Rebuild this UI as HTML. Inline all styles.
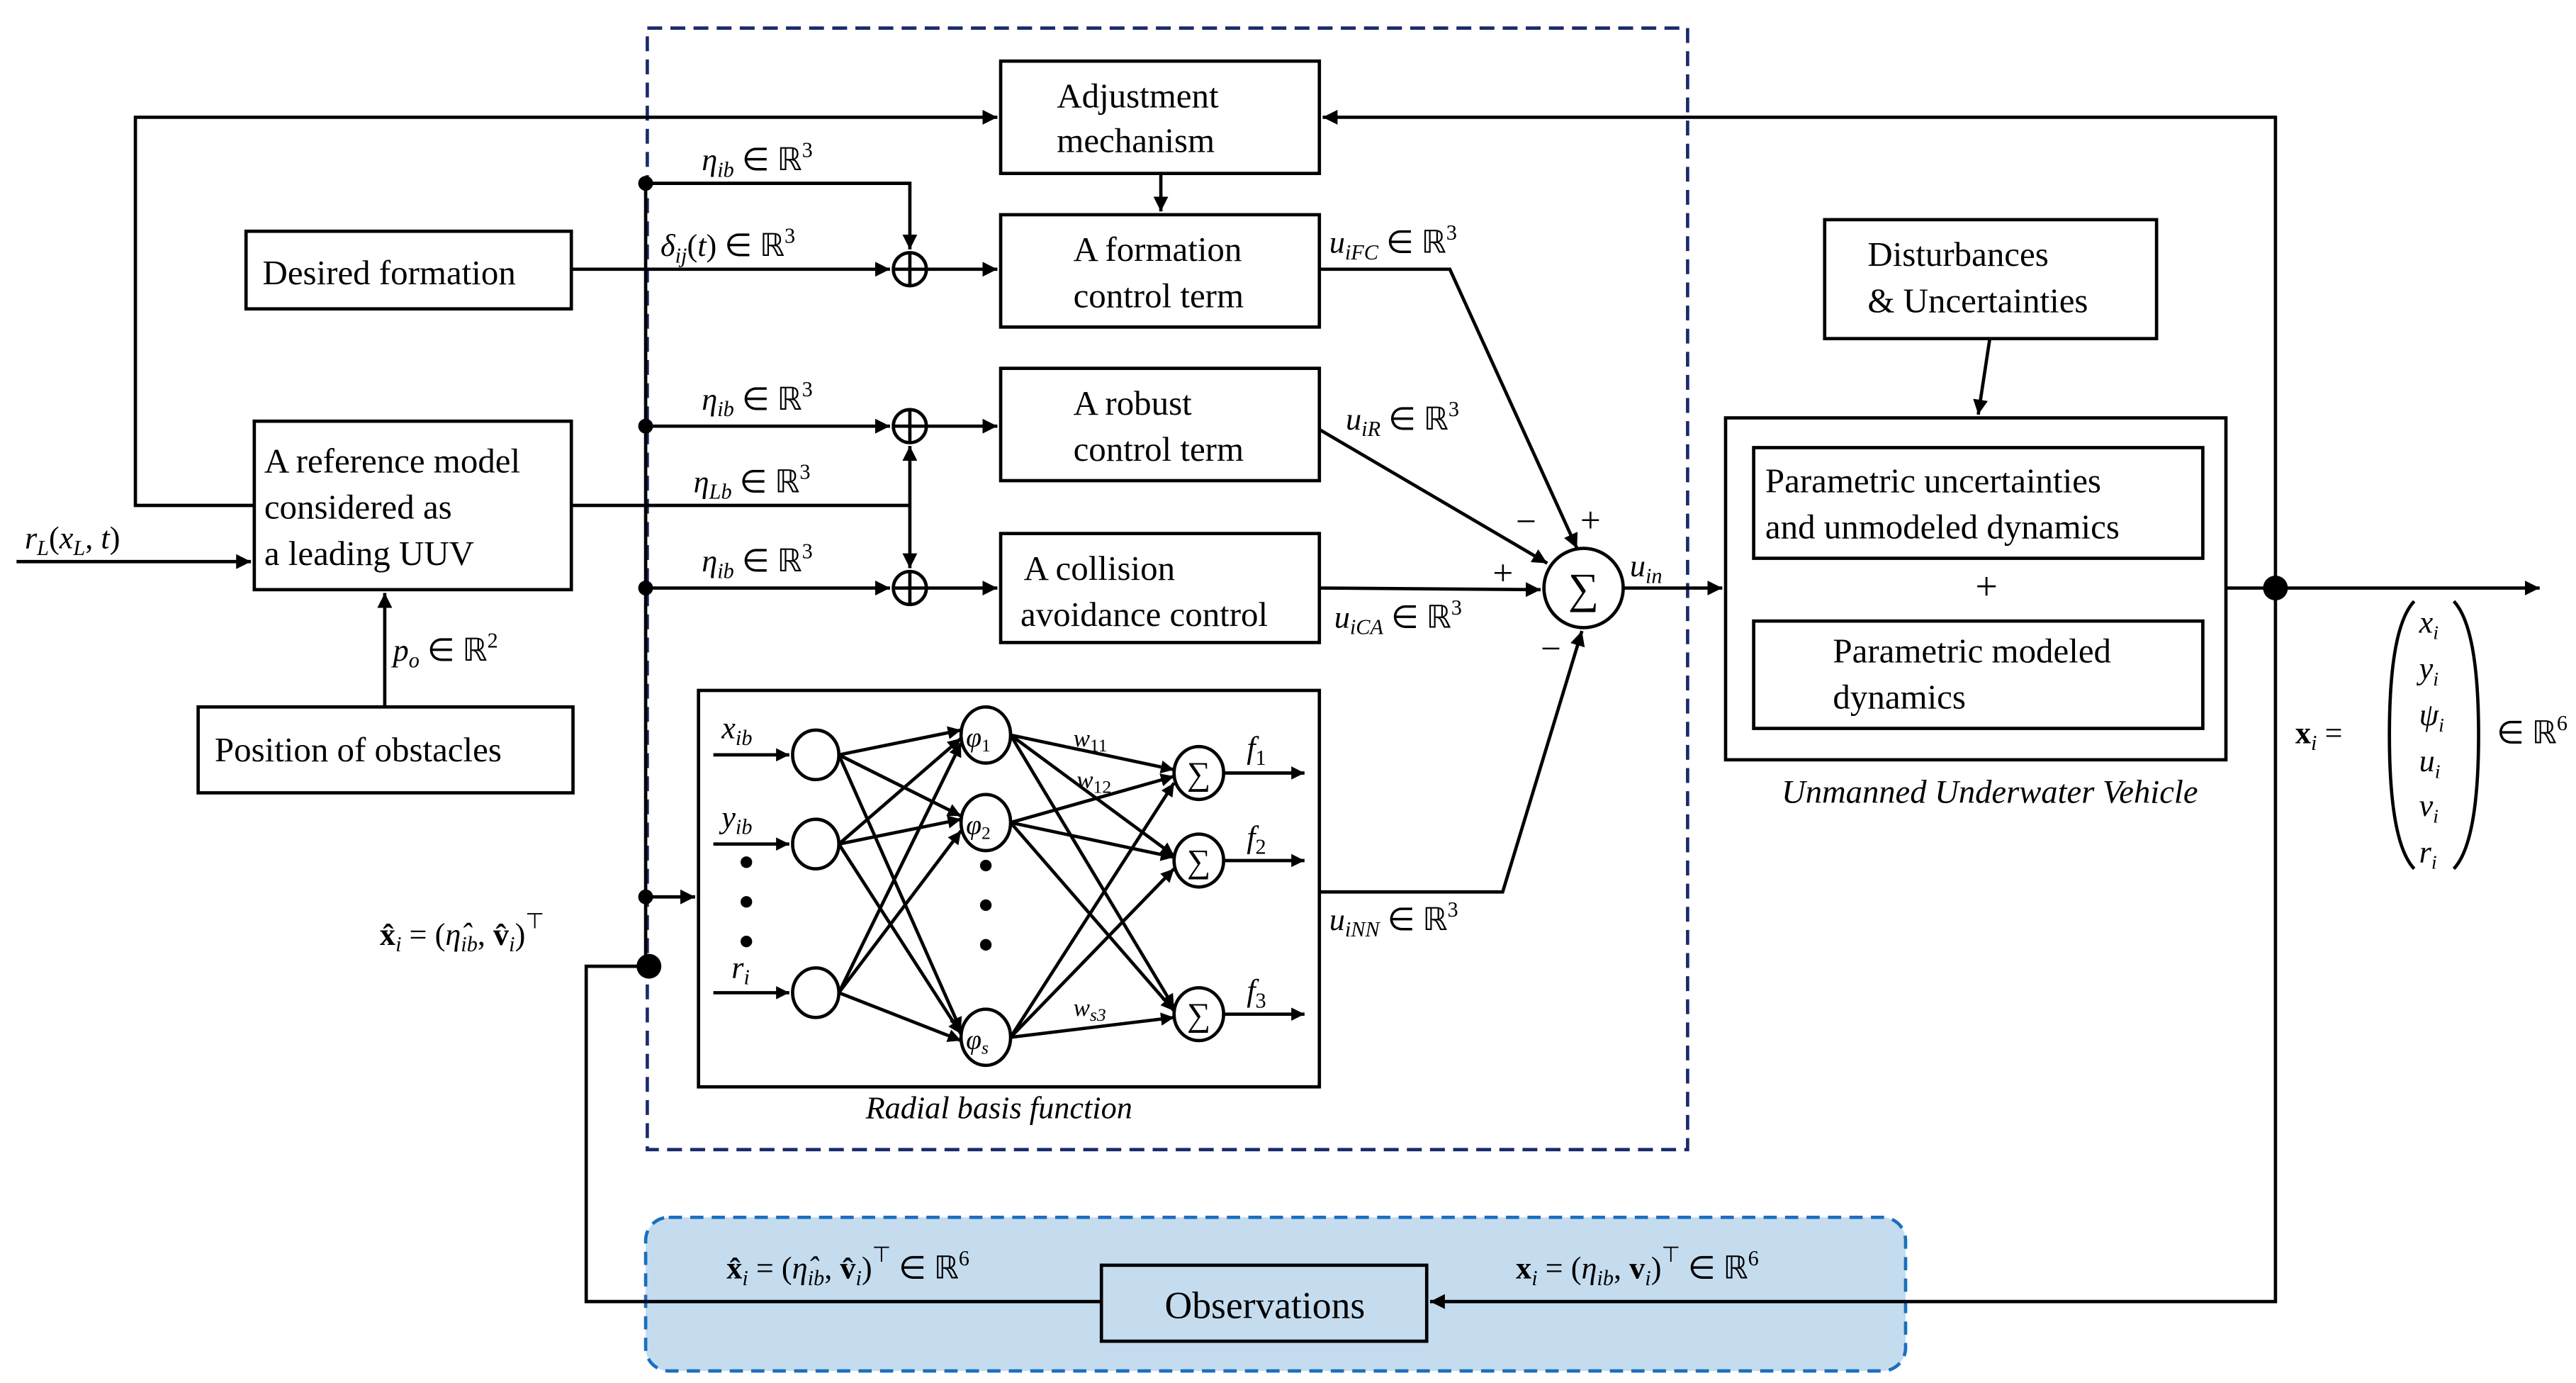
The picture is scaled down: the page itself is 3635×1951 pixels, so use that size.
<!DOCTYPE html>
<html><head><meta charset="utf-8"><style>
html,body{margin:0;padding:0;background:#fff}
svg{display:block}
text{font-family:"Liberation Serif",serif;fill:#000}
.b{font-size:21px}
.m{font-size:19px;font-style:italic}
.s{font-size:13px;font-style:italic}
</style></head><body>
<svg width="3635" height="1951" viewBox="0 0 1560 837.3" preserveAspectRatio="none" xmlns="http://www.w3.org/2000/svg">
<defs>
<marker id="a" viewBox="0 0 10 10" refX="10" refY="5" markerWidth="9" markerHeight="9" markerUnits="userSpaceOnUse" orient="auto"><path d="M0,0L10,5L0,10z" fill="#000"/></marker>
<marker id="s" viewBox="0 0 10 10" refX="10" refY="5" markerWidth="8" markerHeight="8" markerUnits="userSpaceOnUse" orient="auto"><path d="M0,0L10,5L0,10z" fill="#000"/></marker>
</defs>
<g fill="none" stroke="#000" stroke-width="2">
<!-- observation region -->
<rect x="391" y="737" width="763" height="93" rx="14" fill="#c5dcef" stroke="#1a6fc0" stroke-dasharray="8,5"/>
<rect x="392" y="17" width="630" height="679" stroke="#1b2a6b" stroke-dasharray="9,5"/>
<rect x="606" y="37" width="193" height="68"/>
<rect x="606" y="130" width="193" height="68"/>
<rect x="606" y="223" width="193" height="68"/>
<rect x="606" y="323" width="193" height="66"/>
<rect x="149" y="140" width="197" height="47"/>
<rect x="154" y="255" width="192" height="102"/>
<rect x="120" y="428" width="227" height="52"/>
<rect x="1105" y="133" width="201" height="72"/>
<rect x="1045" y="253" width="303" height="207"/>
<rect x="1062" y="271" width="272" height="67"/>
<rect x="1062" y="376" width="272" height="65"/>
<rect x="667" y="766" width="197" height="46" fill="#c5dcef"/>
<rect x="423" y="418" width="376" height="240"/>
<circle cx="959" cy="356" r="24"/>
<circle cx="551" cy="163" r="10"/><path d="M541,163h20M551,153v20"/>
<circle cx="551" cy="258" r="10"/><path d="M541,258h20M551,248v20"/>
<circle cx="551" cy="356" r="10"/><path d="M541,356h20M551,346v20"/>
<!-- connectors -->
<path d="M154,306H82V71H604" marker-end="url(#a)"/>
<path d="M1378,356V71H801" marker-end="url(#a)"/>
<path d="M703,105V128" marker-end="url(#a)"/>
<path d="M391,111H551V151" marker-end="url(#a)"/>
<path d="M346,163H539" marker-end="url(#a)"/>
<path d="M561,163H604" marker-end="url(#a)"/>
<path d="M391,258H539" marker-end="url(#a)"/>
<path d="M561,258H604" marker-end="url(#a)"/>
<path d="M346,306H551"/>
<path d="M551,306V270" marker-end="url(#a)"/>
<path d="M551,306V344" marker-end="url(#a)"/>
<path d="M391,356H539" marker-end="url(#a)"/>
<path d="M561,356H604" marker-end="url(#a)"/>
<path d="M799,163H878L955,332" marker-end="url(#a)"/>
<path d="M799,260L937,341" marker-end="url(#a)"/>
<path d="M799,356L933,357" marker-end="url(#a)"/>
<path d="M799,540H910L958,382" marker-end="url(#a)"/>
<path d="M983,356H1043" marker-end="url(#a)"/>
<path d="M1348,356H1538" marker-end="url(#a)"/>
<path d="M1378,356V788H866" marker-end="url(#a)"/>
<path d="M667,788H355V585H391"/>
<path d="M391,111V585"/>
<path d="M391,543H421" marker-end="url(#a)"/>
<path d="M10,340H152" marker-end="url(#a)"/>
<path d="M233,428V359" marker-end="url(#a)"/>
<path d="M1205,205L1198,251" marker-end="url(#a)"/>
<!-- big vector parens -->
<path d="M1462,364Q1447,380 1447,445Q1447,510 1462,526"/>
<path d="M1486,364Q1501,380 1501,445Q1501,510 1486,526"/>
</g>
<g fill="#000">
<circle cx="391" cy="111" r="4.5"/><circle cx="391" cy="258" r="4.5"/><circle cx="391" cy="356" r="4.5"/><circle cx="391" cy="543" r="4.5"/><circle cx="393" cy="585" r="7.5"/><circle cx="1378" cy="356" r="7.5"/>
<circle cx="452" cy="522" r="3.5"/><circle cx="452" cy="546" r="3.5"/><circle cx="452" cy="570" r="3.5"/>
<circle cx="597" cy="524" r="3.5"/><circle cx="597" cy="548" r="3.5"/><circle cx="597" cy="572" r="3.5"/>
</g>
<!-- NN -->
<g fill="none" stroke="#000" stroke-width="2">
<path d="M432,457H478" marker-end="url(#s)"/><path d="M432,511H478" marker-end="url(#s)"/><path d="M432,601H478" marker-end="url(#s)"/>
<ellipse cx="494" cy="457" rx="14" ry="15"/><ellipse cx="494" cy="511" rx="14" ry="15"/><ellipse cx="494" cy="601" rx="14" ry="15"/>
<ellipse cx="597" cy="445" rx="15" ry="17"/><ellipse cx="597" cy="498" rx="15" ry="17"/><ellipse cx="597" cy="628" rx="15" ry="17"/>
<ellipse cx="726" cy="468" rx="15" ry="16"/><ellipse cx="726" cy="521" rx="15" ry="16"/><ellipse cx="726" cy="614" rx="15" ry="16"/>
<g marker-end="url(#s)">
<path d="M508,457L582,442"/><path d="M508,457L582,494"/><path d="M508,457L582,624"/>
<path d="M508,511L582,447"/><path d="M508,511L582,496"/><path d="M508,511L582,626"/>
<path d="M508,601L582,450"/><path d="M508,601L582,503"/><path d="M508,601L582,630"/>
<path d="M612,445L711,466"/><path d="M612,445L711,518"/><path d="M612,445L711,610"/>
<path d="M612,498L711,470"/><path d="M612,498L711,519"/><path d="M612,498L711,612"/>
<path d="M612,628L711,474"/><path d="M612,628L711,526"/><path d="M612,628L711,616"/>
<path d="M741,468H790"/><path d="M741,521H790"/><path d="M741,614H790"/>
</g></g>
<g class="m">
<text x="437" y="447">x<tspan font-size="13" dy="4">ib</tspan></text>
<text x="437" y="501">y<tspan font-size="13" dy="4">ib</tspan></text>
<text x="443" y="592">r<tspan font-size="13" dy="4">i</tspan></text>
<text x="755" y="459">f<tspan font-size="13" dy="4" font-style="normal">1</tspan></text>
<text x="755" y="513">f<tspan font-size="13" dy="4" font-style="normal">2</tspan></text>
<text x="755" y="606">f<tspan font-size="13" dy="4" font-style="normal">3</tspan></text>
<text x="650" y="452" font-size="15">w<tspan font-size="11" dy="3" font-style="normal">11</tspan></text>
<text x="652" y="477" font-size="15">w<tspan font-size="11" dy="3" font-style="normal">12</tspan></text>
<text x="650" y="615" font-size="15">w<tspan font-size="11" dy="3">s3</tspan></text>
<text x="585" y="452" font-size="17">φ<tspan font-size="11" dy="3" font-style="normal">1</tspan></text>
<text x="585" y="505" font-size="17">φ<tspan font-size="11" dy="3" font-style="normal">2</tspan></text>
<text x="585" y="635" font-size="17">φ<tspan font-size="11" dy="3">s</tspan></text>
</g>
<g font-size="20" text-anchor="middle"><text x="726" y="475">∑</text><text x="726" y="528">∑</text><text x="726" y="621">∑</text><text x="959" y="365" font-size="26">∑</text></g>
<text x="605" y="677" class="m" font-size="17" text-anchor="middle">Radial basis function</text>
<!-- box labels -->
<g class="b">
<text x="640" y="65">Adjustment</text><text x="640" y="92">mechanism</text>
<text x="650" y="158">A formation</text><text x="650" y="186">control term</text>
<text x="650" y="251">A robust</text><text x="650" y="279">control term</text>
<text x="620" y="351">A collision</text><text x="618" y="379">avoidance control</text>
<text x="159" y="172">Desired formation</text>
<text x="160" y="286">A reference model</text><text x="160" y="314">considered as</text><text x="160" y="342">a leading UUV</text>
<text x="130" y="461">Position of obstacles</text>
<text x="1131" y="161">Disturbances</text><text x="1131" y="189">&amp; Uncertainties</text>
<text x="1069" y="298">Parametric uncertainties</text><text x="1069" y="326">and unmodeled dynamics</text>
<text x="1110" y="401">Parametric modeled</text><text x="1110" y="429">dynamics</text>
<text x="1203" y="363" text-anchor="middle" font-size="24">+</text>
<text x="1205" y="486" text-anchor="middle" font-style="italic" font-size="20">Unmanned Underwater Vehicle</text>
<text x="766" y="798" text-anchor="middle" font-family="Liberation Sans" font-size="23">Observations</text>
</g>
<!-- math labels -->
<g class="m">
<text x="425" y="103">η<tspan font-size="13" dy="4">ib</tspan><tspan dy="-4" font-style="normal"> ∈ ℝ</tspan><tspan font-size="13" dy="-8" font-style="normal">3</tspan></text>
<text x="400" y="155">δ<tspan font-size="13" dy="4">ij</tspan><tspan dy="-4" font-style="normal">(</tspan>t<tspan font-style="normal">) ∈ ℝ</tspan><tspan font-size="13" dy="-8" font-style="normal">3</tspan></text>
<text x="425" y="248">η<tspan font-size="13" dy="4">ib</tspan><tspan dy="-4" font-style="normal"> ∈ ℝ</tspan><tspan font-size="13" dy="-8" font-style="normal">3</tspan></text>
<text x="420" y="298">η<tspan font-size="13" dy="4">Lb</tspan><tspan dy="-4" font-style="normal"> ∈ ℝ</tspan><tspan font-size="13" dy="-8" font-style="normal">3</tspan></text>
<text x="425" y="346">η<tspan font-size="13" dy="4">ib</tspan><tspan dy="-4" font-style="normal"> ∈ ℝ</tspan><tspan font-size="13" dy="-8" font-style="normal">3</tspan></text>
<text x="805" y="153">u<tspan font-size="13" dy="4">iFC</tspan><tspan dy="-4" font-style="normal"> ∈ ℝ</tspan><tspan font-size="13" dy="-8" font-style="normal">3</tspan></text>
<text x="815" y="260">u<tspan font-size="13" dy="4">iR</tspan><tspan dy="-4" font-style="normal"> ∈ ℝ</tspan><tspan font-size="13" dy="-8" font-style="normal">3</tspan></text>
<text x="808" y="380">u<tspan font-size="13" dy="4">iCA</tspan><tspan dy="-4" font-style="normal"> ∈ ℝ</tspan><tspan font-size="13" dy="-8" font-style="normal">3</tspan></text>
<text x="805" y="563">u<tspan font-size="13" dy="4">iNN</tspan><tspan dy="-4" font-style="normal"> ∈ ℝ</tspan><tspan font-size="13" dy="-8" font-style="normal">3</tspan></text>
<text x="987" y="349">u<tspan font-size="13" dy="4">in</tspan></text>
<text x="15" y="332">r<tspan font-size="13" dy="4">L</tspan><tspan dy="-4" font-style="normal">(</tspan>x<tspan font-size="13" dy="4">L</tspan><tspan dy="-4" font-style="normal">, </tspan>t<tspan font-style="normal">)</tspan></text>
<text x="238" y="400">p<tspan font-size="13" dy="4">o</tspan><tspan dy="-4" font-style="normal"> ∈ ℝ</tspan><tspan font-size="13" dy="-8" font-style="normal">2</tspan></text>
<text x="230" y="572"><tspan font-weight="bold" font-style="normal">x̂</tspan><tspan font-size="13" dy="4">i</tspan><tspan dy="-4" font-style="normal"> = (</tspan>η̂<tspan font-size="13" dy="4">ib</tspan><tspan dy="-4" font-style="normal">, </tspan><tspan font-weight="bold" font-style="normal">v̂</tspan><tspan font-size="13" dy="4">i</tspan><tspan dy="-4" font-style="normal">)</tspan><tspan font-size="13" dy="-10" font-style="normal">⊤</tspan></text>
<text x="440" y="774"><tspan font-weight="bold" font-style="normal">x̂</tspan><tspan font-size="13" dy="4">i</tspan><tspan dy="-4" font-style="normal"> = (</tspan>η̂<tspan font-size="13" dy="4">ib</tspan><tspan dy="-4" font-style="normal">, </tspan><tspan font-weight="bold" font-style="normal">v̂</tspan><tspan font-size="13" dy="4">i</tspan><tspan dy="-4" font-style="normal">)</tspan><tspan font-size="13" dy="-10" font-style="normal">⊤</tspan><tspan dy="10" font-style="normal"> ∈ ℝ</tspan><tspan font-size="13" dy="-8" font-style="normal">6</tspan></text>
<text x="918" y="774"><tspan font-weight="bold" font-style="normal">x</tspan><tspan font-size="13" dy="4">i</tspan><tspan dy="-4" font-style="normal"> = (</tspan>η<tspan font-size="13" dy="4">ib</tspan><tspan dy="-4" font-style="normal">, </tspan><tspan font-weight="bold" font-style="normal">v</tspan><tspan font-size="13" dy="4">i</tspan><tspan dy="-4" font-style="normal">)</tspan><tspan font-size="13" dy="-10" font-style="normal">⊤</tspan><tspan dy="10" font-style="normal"> ∈ ℝ</tspan><tspan font-size="13" dy="-8" font-style="normal">6</tspan></text>
<text x="1390" y="450"><tspan font-weight="bold" font-style="normal">x</tspan><tspan font-size="13" dy="4">i</tspan><tspan dy="-4" font-style="normal"> =</tspan></text>
<text x="1512" y="450" font-style="normal">∈ ℝ<tspan font-size="13" dy="-8">6</tspan></text>
<text x="1465" y="383">x<tspan font-size="12" dy="4">i</tspan></text>
<text x="1465" y="411">y<tspan font-size="12" dy="4">i</tspan></text>
<text x="1465" y="439">ψ<tspan font-size="12" dy="4">i</tspan></text>
<text x="1465" y="467">u<tspan font-size="12" dy="4">i</tspan></text>
<text x="1465" y="494">v<tspan font-size="12" dy="4">i</tspan></text>
<text x="1465" y="522">r<tspan font-size="12" dy="4">i</tspan></text>
</g>
<g font-size="22" font-family="Liberation Serif">
<text x="957" y="322">+</text><text x="918" y="323">−</text><text x="904" y="354">+</text><text x="933" y="400">−</text>
</g>
</svg>
</body></html>
